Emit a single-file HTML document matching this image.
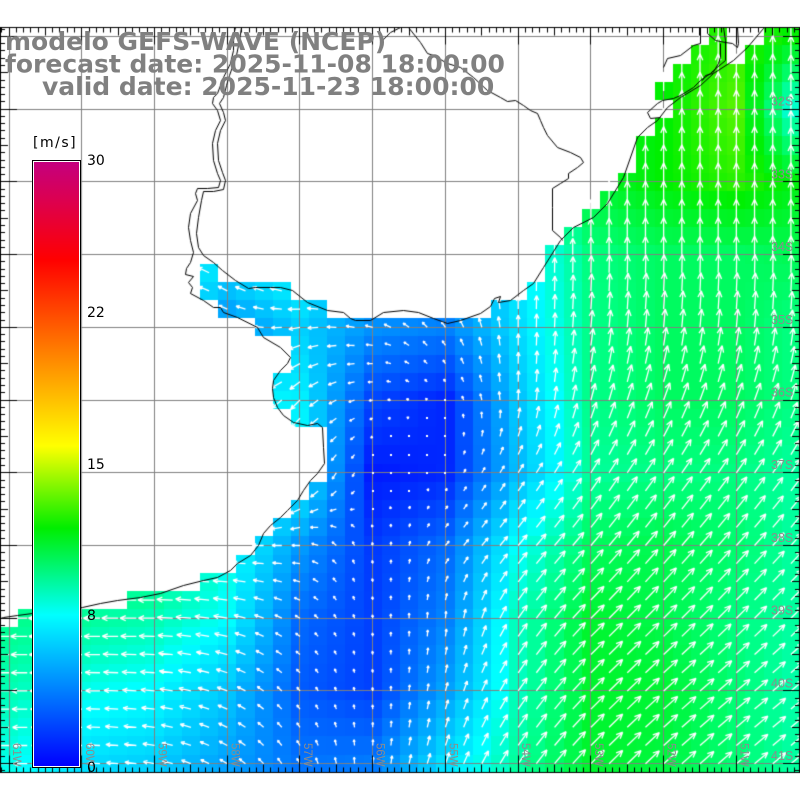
<!DOCTYPE html>
<html>
<head>
<meta charset="utf-8">
<style>
html,body{margin:0;padding:0;background:#fff;}
body{width:800px;height:800px;position:relative;overflow:hidden;}
#c{position:absolute;left:0;top:0;}
#ov{position:absolute;left:0;top:0;}
</style>
</head>
<body>
<canvas id="c" width="800" height="800"></canvas>
<svg id="ov" width="800" height="800" xmlns="http://www.w3.org/2000/svg">
  <defs>
    <linearGradient id="cbg" x1="0" y1="0" x2="0" y2="1">
      <stop offset="0" stop-color="#c4007e"/>
      <stop offset="0.063" stop-color="#dc0050"/>
      <stop offset="0.162" stop-color="#ff0000"/>
      <stop offset="0.316" stop-color="#ff8000"/>
      <stop offset="0.470" stop-color="#ffff00"/>
      <stop offset="0.606" stop-color="#00ee00"/>
      <stop offset="0.750" stop-color="#00ffff"/>
      <stop offset="1" stop-color="#0000ff"/>
    </linearGradient>
  </defs>
  <g font-family="DejaVu Sans, Liberation Sans, sans-serif" font-weight="bold" font-size="25" fill="#808080">
    <text x="5" y="50">modelo GEFS-WAVE (NCEP)</text>
    <text x="5" y="72.5">forecast date: 2025-11-08 18:00:00</text>
    <text x="42" y="95">valid date: 2025-11-23 18:00:00</text>
  </g>
  <g font-family="Liberation Sans, sans-serif" font-size="12.5" fill="#8c8c8c">
    <text x="771" y="105.6">32S</text>
    <text x="771" y="178.3">33S</text>
    <text x="771" y="251">34S</text>
    <text x="771" y="323.8">35S</text>
    <text x="771" y="396.5">36S</text>
    <text x="771" y="469.2">37S</text>
    <text x="771" y="542">38S</text>
    <text x="771" y="614.7">39S</text>
    <text x="771" y="687.4">40S</text>
    <text x="771" y="760.2">41S</text>
  </g>
  <g font-family="Liberation Sans, sans-serif" font-size="11.5" fill="#8c8c8c">
    <text x="13" y="743" transform="rotate(90 13 743)">61W</text>
    <text x="85.8" y="743" transform="rotate(90 85.8 743)">60W</text>
    <text x="158.5" y="743" transform="rotate(90 158.5 743)">59W</text>
    <text x="231.3" y="743" transform="rotate(90 231.3 743)">58W</text>
    <text x="304" y="743" transform="rotate(90 304 743)">57W</text>
    <text x="376.7" y="743" transform="rotate(90 376.7 743)">56W</text>
    <text x="449.5" y="743" transform="rotate(90 449.5 743)">55W</text>
    <text x="522.2" y="743" transform="rotate(90 522.2 743)">54W</text>
    <text x="594.9" y="743" transform="rotate(90 594.9 743)">53W</text>
    <text x="667.6" y="743" transform="rotate(90 667.6 743)">52W</text>
    <text x="740.4" y="743" transform="rotate(90 740.4 743)">51W</text>
  </g>
  <rect x="32.5" y="160.5" width="48" height="607" fill="#fff" stroke="#000" stroke-width="1"/>
  <rect x="34" y="162" width="45" height="604" fill="url(#cbg)"/>
  <g font-family="DejaVu Sans, Liberation Sans, sans-serif" font-size="14" fill="#000">
    <text x="33" y="147" letter-spacing="1.5">[m/s]</text>
    <text x="87" y="165">30</text>
    <text x="87" y="317">22</text>
    <text x="87" y="469">15</text>
    <text x="87" y="620">8</text>
    <text x="87" y="772">0</text>
  </g>
</svg>
<script>
(function(){
const cv=document.getElementById('c'), g=cv.getContext('2d');
const T=27.3, CS=800/44, NR=41, NC=44, B=T+NR*CS;
const X=[9,82,154,227,300,373,445,518,591,664,736,795];
const Y=[36,109,181,254,327,400,472,545,618,690,763];
const S=[
[8,8,8,7,6.5,6,7,10,12,12,12.5,12],
[8,8,8,7,6.5,6,7,10,11.5,12,13,8.5],
[8,8,8,7,6.5,6,7,9.5,11.3,12,12.5,11.8],
[9,9,8,7.5,8.5,5,4,7.5,10,10.5,10.5,10.7],
[10,10,9,4.5,6.5,4.5,4,7,9.8,10.5,10.5,10],
[10,10,10,8,7.5,2.2,1.2,6.2,9.8,10.5,10.5,10],
[10.5,10.5,10.5,8,8,0.8,1.2,5.8,9.5,10,10,9.5],
[10.5,10.5,10.5,8.5,4.8,1.8,3.3,8,10.5,10.8,10.3,9.5],
[9.8,9.6,9.2,8.0,3.3,2.0,4,9,11.3,10.8,10,9.5],
[9.2,8.4,7.9,6.2,2.8,2.0,5,9,11.3,11.2,10.2,9.3],
[8.3,7.0,6.5,5.0,3.6,3.8,7,9.5,11.3,11,10.2,9.5]];
const A=[
[180,180,180,170,160,150,120,90,90,90,90,90],
[180,180,180,170,160,150,120,90,90,90,90,90],
[180,180,180,170,160,150,120,90,90,90,90,90],
[180,180,170,145,150,140,100,90,90,90,90,90],
[180,180,170,160,190,165,125,90,85,85,85,85],
[180,180,180,200,225,190,120,88,75,70,70,72],
[180,180,180,200,230,245,60,58,58,55,55,55],
[180,180,180,180,180,100,50,50,50,50,48,48],
[180,180,180,170,150,95,85,55,45,45,45,45],
[180,180,175,160,130,95,75,55,45,42,40,40],
[180,180,170,150,120,85,70,55,45,42,40,40]];
const U=A.map(r=>r.map(a=>Math.cos(a*Math.PI/180)));
const V=A.map(r=>r.map(a=>Math.sin(a*Math.PI/180)));
function bil(M,x,y){
  let i=0; while(i<X.length-2 && x>X[i+1]) i++;
  let j=0; while(j<Y.length-2 && y>Y[j+1]) j++;
  let tx=(x-X[i])/(X[i+1]-X[i]); tx=Math.max(0,Math.min(1,tx));
  let ty=(y-Y[j])/(Y[j+1]-Y[j]); ty=Math.max(0,Math.min(1,ty));
  return M[j][i]*(1-tx)*(1-ty)+M[j][i+1]*tx*(1-ty)+M[j+1][i]*(1-tx)*ty+M[j+1][i+1]*tx*ty;
}
const P=[[0,0,0,255],[4,0,128,255],[8,0,255,255],[10,0,255,128],[12,0,240,0],[15,255,255,0]];
function col(s){
  s=Math.max(0,Math.min(15,s));
  for(let k=0;k<P.length-1;k++){
    if(s<=P[k+1][0]){
      const t=(s-P[k][0])/(P[k+1][0]-P[k][0]);
      return 'rgb('+[1,2,3].map(q=>Math.round(P[k][q]+(P[k+1][q]-P[k][q])*t)).join(',')+')';
    }
  }
  return 'rgb(255,255,0)';
}
const R=[[[39,39],[42,43]],[[38,39],[41,43]],[[37,43]],[[36,43]],[[37,43]],[[36,43]],[[35,43]],[[35,43]],[[34,43]],[[33,43]],[[32,43]],[[31,43]],[[30,43]],[[11,11],[30,43]],[[11,15],[29,43]],[[12,17],[27,43]],[[14,43]],[[16,43]],[[16,43]],[[15,43]],[[15,43]],[[16,43]],[[18,43]],[[18,43]],[[18,43]],[[17,43]],[[16,43]],[[15,43]],[[14,43]],[[13,43]],[[11,43]],[[7,43]],[[1,43]]];
while(R.length<NR) R.push([[0,43]]);
const cells=[];
for(let r=0;r<NR;r++){
  for(const rg of R[r]){
    for(let c=rg[0];c<=rg[1];c++) cells.push([r,c]);
  }
}
g.fillStyle='#fff'; g.fillRect(0,0,800,800);
for(const [r,c] of cells){
  const cx=(c+0.5)*CS, cy=T+(r+0.5)*CS;
  const s=bil(S,cx,cy);
  g.fillStyle=col(s);
  const x0=Math.round(c*CS), x1=Math.round((c+1)*CS), y0=Math.round(T+r*CS), y1=Math.round(T+(r+1)*CS);
  g.fillRect(x0,y0,x1-x0,y1-y0);
}
g.strokeStyle='#808080'; g.lineWidth=1;
g.beginPath();
for(let i=0;i<=10;i++){ const x=Math.floor(9.09+72.727*i)+0.5; g.moveTo(x,T); g.lineTo(x,B); }
for(let j=0;j<=10;j++){ const y=Math.floor(36.4+72.727*j)+0.5; g.moveTo(0,y); g.lineTo(800,y); }
g.stroke();
g.strokeStyle='#fff'; g.fillStyle='#fff'; g.lineWidth=1.3;
for(const [r,c] of cells){
  const cx=(c+0.5)*CS, cy=T+(r+0.5)*CS;
  const s=bil(S,cx,cy), u=bil(U,cx,cy), v=bil(V,cx,cy);
  const a=Math.atan2(v,u);
  const L=Math.min(19,1.75*s);
  if(L<2.5){ g.fillRect(Math.round(cx)-1,Math.round(cy)-1,2,2); continue; }
  const hx=cx+L*Math.cos(a), hy=cy-L*Math.sin(a);
  const hl=Math.min(7,Math.max(2.5,0.38*L));
  g.beginPath();
  g.moveTo(cx,cy); g.lineTo(hx,hy);
  for(const sg of [-1,1]){
    const ba=a+Math.PI+sg*0.42;
    g.moveTo(hx,hy); g.lineTo(hx+hl*Math.cos(ba), hy-hl*Math.sin(ba));
  }
  g.stroke();
}
const coast=[
 [[235,27],[233,35],[233,50],[230,63],[223,77],[220,85],[217,93],[213,97],[212,103],[217,110],[220,120],[215,130],[212,143],[213,160],[217,173],[220,180],[218,187],[207,188],[197,188],[195,193],[197,200],[190,213],[188,227],[190,240],[193,252],[190,262],[186,268],[185,274],[193,276],[188,282],[192,287],[190,293],[203,300],[213,307],[220,307],[223,312],[237,317],[257,327],[263,337],[280,347],[290,357],[287,363],[280,370],[273,380],[272,388],[273,397],[277,407],[283,415],[293,422],[307,425],[317,423],[322,427],[323,447],[324,463],[317,473],[310,480],[303,490],[297,500],[287,510],[280,517],[270,525],[263,533],[258,545],[250,555],[237,563],[230,570],[217,577],[203,580],[183,585],[160,593],[140,597],[117,600],[100,603],[82,607],[32,613],[17,615],[3,617],[0,618]],
 [[241,27],[239,40],[236,55],[229,75],[226,85],[223,97],[219,103],[223,112],[225,120],[220,130],[217,143],[218,160],[222,172],[225,180],[223,189],[213,191],[203,191],[201,200],[198,217],[196,233],[198,247],[203,255],[213,262],[222,270],[235,280],[248,288],[255,287],[270,287],[280,287],[292,290],[307,302],[327,310],[343,312],[350,318],[355,320],[370,320],[383,312],[403,310],[418,312],[433,318],[447,323],[460,320],[480,313],[490,306],[494,298],[500,296],[498,302],[510,300],[523,290],[533,283],[543,267],[560,240],[573,227],[593,217],[607,203],[623,177],[637,137],[647,127],[657,120],[667,107],[680,97],[700,85],[713,73],[733,60],[747,47],[763,28],[764,27]],
 [[408,27],[420,42],[427,53],[433,55],[447,63],[460,67],[473,77],[487,90],[500,97],[507,101],[515,100],[523,105],[530,110],[537,113],[540,120],[543,127],[547,135],[557,147],[570,152],[580,157],[583,162],[577,167],[568,173],[568,178],[560,183],[552,188],[552,207],[552,230],[560,237],[562,240]],
 [[380,42],[390,32],[398,28],[400,27]],
 [[663,67],[667,58],[680,55],[693,45],[700,43],[700,27]],
 [[723,27],[725,40],[725,60],[713,70],[710,73],[700,80],[693,87],[680,95],[673,98],[662,100],[657,103],[647,112],[650,118],[660,117]],
 [[707,27],[707,33],[715,40],[725,42],[732,43],[737,47],[738,43],[737,27]],
 [[720,43],[720,57],[718,63],[712,73],[705,75],[702,80]]
];
g.strokeStyle='#000'; g.lineWidth=1;
for(const line of coast){
  g.beginPath();
  line.forEach((p,k)=>{ if(k===0) g.moveTo(p[0]+0.5,p[1]+0.5); else g.lineTo(p[0]+0.5,p[1]+0.5); });
  g.stroke();
}
g.fillStyle='#fff';
g.fillRect(0,0,800,Math.floor(T));
g.fillRect(0,Math.ceil(B),800,800-Math.ceil(B));
g.strokeStyle='#000'; g.lineWidth=1;
g.beginPath();
const top=Math.floor(T)+0.5, bot=Math.floor(B)+0.5;
g.moveTo(0,top); g.lineTo(800,top);
g.moveTo(0,bot); g.lineTo(800,bot);
g.moveTo(0.5,top); g.lineTo(0.5,bot);
g.moveTo(799.5,top); g.lineTo(799.5,bot);
for(let k=-2;k<=112;k++){
  const x=Math.floor(9.09+7.2727*k)+0.5;
  if(x<0||x>800) continue;
  const m=((k%10)+10)%10;
  const len=m===0?17:(m===5?8:5);
  g.moveTo(x,top); g.lineTo(x,top+len);
  g.moveTo(x,bot); g.lineTo(x,bot-len);
}
for(let k=-2;k<=104;k++){
  const y=Math.floor(36.4+7.2727*k)+0.5;
  if(y<top||y>bot) continue;
  const m=((k%10)+10)%10;
  const len=m===0?17:(m===5?8:5);
  g.moveTo(0,y); g.lineTo(len,y);
  g.moveTo(800,y); g.lineTo(800-len,y);
}
g.stroke();
})();
</script>
</body>
</html>
